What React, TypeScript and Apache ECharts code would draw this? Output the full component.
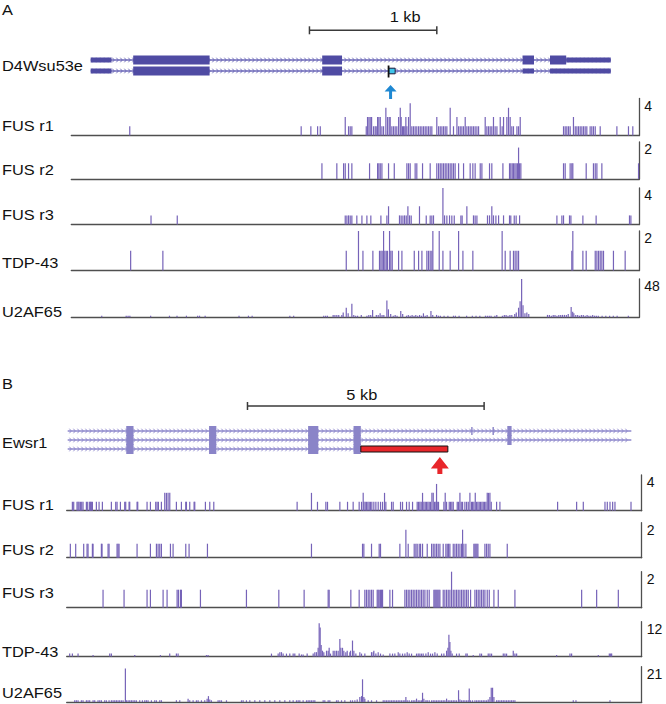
import React, { useEffect, useRef } from "react";
import * as echarts from "echarts";

// ---------------- DATA ----------------
const trackNames = ["FUS r1", "FUS r2", "FUS r3", "TDP-43", "U2AF65"];
const scaleMaxA = [4, 2, 4, 2, 48];
const scaleMaxB = [4, 2, 2, 12, 21];

// Panel A (D4Wsu53e), genomic offset in bp, [position, value]
const fusR1A = [[459,1],[1805,1],[1881,1],[1934,1],[1955,1],[2151,2],[2177,1],[2190,1],[2203,1],[2316,1],[2326,2],[2337,2],[2347,2],[2358,2],[2373,1],[2386,1],[2394,1],[2405,2],[2415,2],[2426,2],[2439,1],[2452,1],[2470,3],[2483,2],[2496,2],[2504,2],[2517,1],[2530,1],[2543,1],[2556,1],[2570,2],[2583,3],[2590,2],[2601,1],[2609,1],[2619,1],[2627,2],[2635,1],[2648,2],[2661,3.5],[2674,1],[2687,1],[2700,1],[2713,1],[2727,1],[2740,1],[2753,1],[2766,1],[2779,1],[2792,1],[2805,1],[2818,1],[2831,1],[2870,2],[2884,1],[2897,1],[2910,1],[2923,1],[2936,1],[2949,1],[2975,3],[3001,1],[3028,2],[3041,1],[3054,1],[3067,1],[3080,1],[3093,2],[3106,1],[3119,1],[3132,1],[3145,1],[3158,1],[3171,1],[3185,1],[3198,1],[3250,2],[3263,1],[3276,1],[3289,1],[3302,1],[3315,2],[3328,1],[3342,1],[3368,2],[3383,1],[3394,2],[3420,2],[3433,3],[3446,2],[3459,1],[3472,1],[3499,1],[3512,1],[3525,2],[3865,1],[3878,1],[3891,1],[3904,1],[3917,1],[3943,2],[3957,1],[3970,1],[3983,1],[3996,1],[4009,1],[4022,1],[4035,1],[4048,1],[4074,1],[4087,1],[4100,1],[4114,1],[4153,1],[4284,1],[4375,1],[4409,1]];
const fusR2A = [[1968,0.85],[2085,0.85],[2138,0.85],[2151,0.85],[2177,0.85],[2203,0.85],[2342,0.85],[2405,0.85],[2415,0.85],[2426,0.85],[2439,0.85],[2491,0.85],[2536,0.85],[2635,0.85],[2648,0.85],[2661,0.85],[2700,0.85],[2713,0.85],[2758,0.85],[2818,0.85],[2870,0.85],[2884,0.85],[2897,0.85],[2910,0.85],[2923,0.85],[2936,0.85],[2949,0.85],[2962,0.85],[2975,0.85],[2988,0.85],[3001,0.85],[3014,0.85],[3041,0.85],[3080,0.85],[3132,0.85],[3153,0.85],[3171,0.85],[3211,0.85],[3224,0.85],[3284,0.85],[3302,0.85],[3389,0.85],[3441,0.85],[3451,0.85],[3462,0.85],[3472,0.85],[3483,0.85],[3493,0.85],[3504,0.85],[3512,1.7],[3520,0.85],[3530,0.85],[3865,0.85],[3878,0.85],[3917,0.85],[3930,0.85],[3938,0.85],[4043,0.85],[4100,0.85],[4114,0.85],[4127,0.85],[4166,0.85],[4454,0.85]];
const fusR3A = [[626,1],[832,1],[2151,1],[2164,1],[2177,1],[2190,1],[2203,1],[2242,1],[2282,1],[2321,1],[2352,1],[2431,1],[2478,1],[2491,2],[2577,1],[2590,1],[2604,1],[2617,1],[2630,1],[2643,2],[2656,1],[2669,1],[2734,2],[2787,1],[2818,1],[2831,1],[2844,1],[2918,4],[2931,1],[2949,1],[2970,1],[2988,1],[3007,1],[3059,1],[3069,1],[3106,2],[3158,1],[3171,1],[3185,1],[3268,1],[3284,1],[3302,2],[3315,1],[3334,1],[3355,1],[3394,1],[3441,1],[3451,1],[3478,1],[3493,1],[3520,1],[3813,1],[3852,1],[3865,1],[3912,1],[3923,1],[4017,1],[4121,1],[4383,1],[4394,1]];
const tdp43A = [[466,1],[719,1],[2159,1],[2255,2],[2290,1],[2368,1],[2420,1],[2431,1],[2441,1],[2452,2],[2462,1],[2473,1],[2483,1],[2499,2],[2509,1],[2520,1],[2570,1],[2596,1],[2693,1],[2727,1],[2753,1],[2792,1],[2805,1],[2818,1],[2831,1],[2839,2],[2889,2],[2918,1],[2975,1],[3041,2],[3075,1],[3153,1],[3383,2],[3407,1],[3446,1],[3472,1],[3485,1],[3499,1],[3512,1],[3930,1],[3938,2],[4017,1],[4043,1],[4114,1],[4127,1],[4140,1],[4153,1],[4166,1],[4179,1],[4257,1],[4349,1]];
const u2af65A = [[239,2],[431,2],[446,2],[460,2],[623,2],[771,2],[830,2],[904,2],[992,2],[1007,2],[1051,2],[1317,2],[1391,2],[1420,2],[1716,2],[1746,2],[1982,2],[1997,2],[2011,2],[2056,3],[2070,3],[2085,3],[2100,3],[2124,3],[2135,6],[2159,12],[2174,5],[2203,17],[2218,3],[2233,2],[2248,2],[2277,3],[2321,2],[2336,3],[2351,3],[2366,9],[2395,3],[2410,3],[2425,5],[2440,3],[2454,3],[2478,21],[2490,10],[2508,4],[2528,2],[2543,3],[2558,2],[2587,8],[2602,4],[2632,2],[2646,3],[2661,2],[2676,3],[2691,2],[2705,3],[2720,2],[2735,3],[2750,2],[2765,5],[2779,2],[2794,3],[2824,8],[2838,3],[2868,3],[2883,2],[2898,2],[2927,2],[2957,2],[3001,2],[3016,2],[3045,2],[3104,2],[3149,2],[3178,2],[3208,2],[3252,2],[3267,2],[3282,2],[3296,2],[3326,2],[3341,3],[3385,2],[3400,3],[3414,3],[3429,2],[3444,3],[3459,3],[3482,4],[3494,6],[3512,12],[3524,20],[3536,48],[3547,15],[3562,5],[3577,6],[3592,4],[3739,3],[3754,3],[3769,2],[3784,3],[3798,3],[3813,2],[3828,3],[3843,3],[3857,3],[3872,3],[3887,3],[3902,4],[3925,13],[3937,7],[3946,5],[3961,3],[3976,3],[3990,2],[4005,3],[4020,3],[4035,2],[4050,3],[4064,2],[4079,2],[4094,3],[4109,2],[4123,2],[4138,2],[4168,2],[4197,2],[4227,2],[4256,2],[4286,2],[4374,2]];

// Panel B (Ewsr1)
const fusR1B = [[120,1],[148,1],[218,1],[240,1],[261,1],[289,1],[317,1],[345,1],[416,1],[444,1],[486,1],[500,1],[521,1],[543,1],[627,1],[684,1],[754,1],[944,1],[1036,1],[1064,1],[1135,1],[1226,1],[1247,1],[1318,1],[1332,1],[1487,1],[1501,1],[1698,1],[1769,1],[1881,1],[1910,1],[1938,1],[2001,1],[2072,2],[2107,2],[2142,2],[2178,2],[2318,1],[2424,1],[2516,1],[2530,1],[2600,1],[2692,1],[2706,1],[2931,1],[3023,1],[3108,1],[4869,1],[5172,2],[5299,1],[5476,1],[5511,1],[5772,1],[5934,1],[6053,1],[6180,1],[6230,1],[6265,2],[6279,1],[6307,1],[6335,1],[6364,1],[6392,1],[6420,1],[6448,1],[6490,1],[6533,1],[6582,1],[6631,1],[6674,1],[6716,2],[6744,1],[6864,1],[6899,1],[7054,1],[7096,1],[7181,1],[7237,1],[7308,1],[7406,1],[7435,1],[7463,1],[7491,1],[7519,2],[7547,1],[7576,1],[7604,1],[7632,1],[7660,1],[7688,1],[7717,2],[7745,2],[7773,1],[7801,1],[7815,3],[7829,1],[7857,1],[7970,1],[7998,2],[8027,1],[8083,1],[8111,1],[8139,1],[8168,1],[8252,1],[8280,1],[8309,2],[8337,1],[8365,1],[8414,1],[8450,1],[8485,1],[8520,2],[8555,1],[8576,1],[8604,1],[8633,2],[8661,1],[8689,1],[8717,1],[8745,1],[8774,1],[8802,1],[8830,1],[8858,1],[8886,2],[8914,2],[8943,2],[8971,1],[9084,1],[9154,1],[10373,1],[10775,1],[10916,1],[11374,1],[11423,1],[11480,1],[11536,1],[11585,1],[11924,1]];
const fusR2B = [[77,0.8],[190,0.8],[359,0.8],[430,0.8],[451,0.8],[543,0.8],[557,0.8],[733,0.8],[747,0.8],[874,0.8],[895,0.8],[1064,0.8],[1085,0.8],[1106,0.8],[1487,0.8],[1769,0.8],[1896,0.8],[1931,0.8],[1966,0.8],[2001,0.8],[2192,0.8],[2248,0.8],[2516,0.8],[2586,0.8],[2974,0.8],[5172,0.8],[6251,0.8],[6279,0.8],[6441,0.8],[6603,0.8],[6631,0.8],[7040,0.8],[7167,1.6],[7216,0.8],[7343,0.8],[7378,0.8],[7406,0.8],[7449,0.8],[7477,0.8],[7519,0.8],[7618,0.8],[7710,0.8],[7745,0.8],[7780,0.8],[7815,0.8],[7850,0.8],[7886,0.8],[7956,0.8],[8012,0.8],[8041,0.8],[8069,0.8],[8097,0.8],[8168,0.8],[8203,0.8],[8238,0.8],[8273,0.8],[8309,0.8],[8344,0.8],[8365,1.6],[8393,0.8],[8435,0.8],[8604,0.8],[8626,0.8],[8647,0.8],[8668,0.8],[8689,0.8],[8837,0.8],[8872,0.8],[8907,0.8],[8943,0.8],[9309,0.8]];
const fusR3B = [[768,1],[1212,1],[1698,1],[1769,1],[2037,1],[2121,1],[2333,1],[2361,1],[2403,1],[2424,1],[2826,1],[3798,1],[4482,1],[5017,1],[5525,1],[5546,1],[6004,1],[6180,1],[6300,1],[6335,1],[6371,1],[6406,1],[6441,1],[6476,1],[6561,1],[6582,1],[6603,1],[6631,1],[6652,1],[6674,1],[6829,1],[6885,1],[7146,1],[7181,1],[7216,1],[7251,1],[7287,1],[7322,1],[7357,1],[7392,1],[7428,1],[7463,1],[7498,1],[7533,1],[7569,1],[7618,1],[7660,1],[7759,1],[7780,1],[7801,1],[7822,1],[7843,1],[7865,1],[7886,1],[7956,1],[7991,1],[8027,1],[8062,1],[8097,1],[8132,2],[8168,1],[8203,1],[8238,1],[8273,1],[8309,1],[8344,1],[8379,1],[8414,1],[8450,1],[8485,1],[8534,1],[8626,1],[8661,1],[8696,1],[8731,1],[8766,1],[8802,1],[8837,1],[8886,1],[8929,1],[9027,1],[9119,1],[9471,1],[10881,1],[11198,1],[11656,1]];
const tdp43B = [[63,1],[120,1],[240,1],[557,0.5],[909,1],[944,1],[1438,0.5],[1980,0.5],[2177,1],[2318,1],[2354,1],[2953,0.5],[2988,0.5],[4327,1],[4468,1],[4503,1.5],[4538,1.5],[4573,1],[4644,1],[4714,1],[4785,1],[4820,1],[4912,1],[4961,0.7],[4996,0.7],[5081,1],[5208,1],[5243,1.5],[5278,1.5],[5313,3],[5335,11.5],[5356,10],[5377,4],[5405,2],[5433,1.5],[5490,2],[5525,2],[5546,3],[5574,1],[5631,2],[5666,2],[5701,2],[5736,2],[5772,6],[5793,3],[5828,3],[5856,2],[5898,1.5],[5927,2],[5983,1.5],[5997,2],[6039,5.5],[6068,2],[6110,1],[6194,1.5],[6230,1],[6300,1],[6441,1.5],[6476,1.5],[6490,2],[6533,1],[6582,1.5],[6631,1],[6688,0.7],[6829,1],[6885,1],[6934,1],[7005,1.5],[7040,1],[7096,1],[7146,1],[7195,1.5],[7237,1],[7287,1],[7392,1],[7428,1],[7463,1],[7498,1],[7533,1],[7590,1],[7639,1.5],[7688,1],[7731,1],[7780,1.5],[7829,1],[7921,1],[7970,1],[8027,2],[8055,3],[8076,7.5],[8097,5],[8118,2],[8146,1],[8238,1],[8294,1],[8435,1],[8463,1],[8590,0.5],[8731,1],[8766,1],[8907,1],[8943,1],[8978,1],[9225,1],[9260,1],[9295,1],[9436,2],[9471,1],[9507,1],[10352,0.5],[10634,1],[10669,1],[11233,0.5],[11466,1],[11494,1],[11515,1]];
const u2af65B = [[169,1],[204,1],[240,1],[310,1],[345,1],[416,1],[451,1],[486,1],[557,1],[592,1],[662,1],[698,1],[733,1],[803,1],[839,1],[895,1],[944,1],[980,1],[1015,1],[1050,1],[1085,1],[1120,1],[1156,1],[1191,1],[1240,20],[1261,1],[1297,1],[1332,1],[1367,1],[1402,1],[1438,1],[1473,1],[1543,1],[1600,1],[1649,1],[1684,1],[1719,1],[1790,1],[1860,1],[1896,1],[1966,1],[2001,1],[2318,1],[2389,1],[2565,2],[2600,1],[2671,1],[2741,1],[2777,1],[2847,1],[2917,1],[2967,2],[2995,3.5],[3023,1.5],[3058,1],[3199,1],[3235,1],[3270,1],[3376,1],[3693,1],[3728,1],[3798,1],[3869,1],[3975,1],[4080,1],[4186,1],[4292,1],[4397,1],[4503,1],[4609,1],[4714,1],[4785,1],[4855,1],[4891,1],[4926,1],[4996,1],[5067,1],[5102,1],[5137,1],[5172,1],[5208,1],[5243,1],[5419,1],[5454,1],[5525,1],[5560,1],[5701,1],[5736,1],[5807,1],[5877,1],[5997,1],[6039,1],[6089,1],[6138,1.5],[6194,3],[6230,3.5],[6251,13.5],[6279,3],[6300,2],[6371,1],[6441,1],[6547,1],[6688,1],[6723,1],[6758,1],[6793,1],[6829,1],[6864,1],[6899,1],[6934,1],[6970,1],[7005,1],[7040,1],[7075,1],[7111,1],[7146,1],[7167,3],[7195,1],[7237,1],[7287,1],[7322,1],[7357,1],[7392,2],[7428,1],[7463,1],[7498,1],[7519,5.5],[7547,2],[7590,1],[7618,1],[7660,1],[7710,1],[7745,1],[7780,1],[7815,1],[7850,1],[7886,1],[7921,1],[7956,1],[7991,1],[8027,2],[8062,1],[8097,1],[8132,1],[8168,1],[8203,1],[8238,1],[8280,7],[8309,1.5],[8344,1],[8379,1],[8414,1],[8450,1],[8485,1],[8506,8],[8534,1],[8576,1],[8626,1],[8661,1],[8696,1],[8731,1],[8766,1],[8802,1],[8837,1],[8872,1],[8907,1.5],[8943,3],[8971,8.5],[8999,8.5],[9027,3],[9084,1],[9119,1],[9154,1],[9190,1],[9225,1],[9260,1],[9295,1],[9331,1],[9366,1],[9401,1],[9436,1],[9471,1],[10704,1],[10761,1],[11480,1]];

// Gene models: [start, end, row, kind]; kind 0 backbone, 1 UTR, 2 coding exon, 3 marked exon, 4 marked region, 5 tiny exon
const geneNameA = "D4Wsu53e";
const geneModelA = [
  [152,4236,0,0],[152,316,0,1],[486,1086,0,2],[1970,2126,0,2],[3543,3633,0,2],[3759,3886,0,2],[3886,4236,0,1],
  [152,4236,1,0],[152,316,1,1],[486,1086,1,2],[1970,2126,1,2],[2492,2543,1,3],[3543,3633,1,1],[3759,4236,1,1],
];
const geneNameB = "Ewsr1";
const geneModelB = [
  [21,11931,0,0],[1258,1412,0,2],[3008,3162,0,2],[5101,5317,0,2],[6061,6215,0,2],[8547,8567,0,5],[8997,9017,0,5],[9310,9401,0,2],
  [21,11931,1,0],[1258,1412,1,2],[3008,3162,1,2],[5101,5317,1,2],[6061,6215,1,2],[9310,9401,1,2],
  [21,6215,2,0],[1258,1412,2,2],[3008,3162,2,2],[5101,5317,2,2],[6061,6215,2,2],[6215,8054,2,4],
];
const scaleBarA = [1870, 2870];
const scaleLabelA = "1 kb";
const scaleBarB = [3820, 8820];
const scaleLabelB = "5 kb";
const arrowPosA = 2507;
const arrowPosB = 7885;

// ---------------- LAYOUT / STYLE ----------------
const FONT = '"Liberation Sans", Arial, Helvetica, sans-serif';
const STRETCH = 1.17;
const BAR_COLOR = "#7663b8";
const AXIS_COLOR = "#4f4f4f";

const panels = [
  {
    letter: "A", letterY: 10,
    left: 71.3, width: 568, xMax: 4460,
    geneName: geneNameA, geneLabelY: 65.5, gene: geneModelA,
    row0Y: 60, rowH: 11, rowMin: -3.5, rowMax: 3.5,
    exonColor: "#4f4ba3", intronColor: "#6c69b8", cdsH: 9, utrH: 5, chevronStep: 4,
    scaleBar: scaleBarA, scaleLabel: scaleLabelA, scaleRow: -2.7, scaleLabelDx: 32, scaleLabelDy: 13.6,
    arrow: arrowPosA, arrowRow: 2.27, arrowColor: "#1f88d2", headW: 12, headH: 6.5, shaftW: 3, shaftH: 7.5,
    tracks: [fusR1A, fusR2A, fusR3A, tdp43A, u2af65A], maxes: scaleMaxA,
    tops: [98.5, 142, 188, 231, 279],
    baselines: [135.5, 179, 224.5, 270.5, 317.3],
    labelY: [125.7, 170, 215, 262.7, 312],
  },
  {
    letter: "B", letterY: 384,
    left: 66.7, width: 575, xMax: 12150,
    geneName: geneNameB, geneLabelY: 442.7, gene: geneModelB,
    row0Y: 431, rowH: 9, rowMin: -3.5, rowMax: 5,
    exonColor: "#8a84c8", intronColor: "#8e88cc", cdsH: 10, utrH: 6, chevronStep: 4,
    scaleBar: scaleBarB, scaleLabel: scaleLabelB, scaleRow: -2.78, scaleLabelDx: -4, scaleLabelDy: 11.3,
    arrow: arrowPosB, arrowRow: 2.9, arrowColor: "#e8262b", headW: 18, headH: 11.5, shaftW: 5, shaftH: 5.5,
    tracks: [fusR1B, fusR2B, fusR3B, tdp43B, u2af65B], maxes: scaleMaxB,
    tops: [475, 522.7, 571.7, 621.7, 666.7],
    baselines: [510.7, 557.7, 607.7, 656.5, 702],
    labelY: [505, 550, 593, 651.7, 693],
  },
];

function geneRenderer(p: any) {
  return (params: any, api: any) => {
    const s = api.value(0), e = api.value(1), row = api.value(2), kind = api.value(3);
    const a = api.coord([s, row]);
    const b = api.coord([e, row]);
    const y = a[1];
    if (kind === 0) {
      const children: any[] = [
        { type: "line", shape: { x1: a[0], y1: y, x2: b[0], y2: y }, style: { stroke: p.intronColor, lineWidth: 1.3 } },
      ];
      for (let x = a[0] + 3; x < b[0] - 1; x += p.chevronStep) {
        children.push({
          type: "polyline",
          shape: { points: [[x - 1.3, y - 2.3], [x + 0.6, y], [x - 1.3, y + 2.3]] },
          style: { stroke: p.intronColor, lineWidth: 0.9, fill: "none" },
        });
      }
      return { type: "group", children };
    }
    if (kind === 1 || kind === 2) {
      const h = kind === 2 ? p.cdsH : p.utrH;
      return { type: "rect", shape: { x: a[0], y: y - h / 2, width: Math.max(b[0] - a[0], 1), height: h }, style: { fill: p.exonColor } };
    }
    if (kind === 3) {
      return {
        type: "group",
        children: [
          { type: "rect", shape: { x: a[0], y: y - 2.8, width: b[0] - a[0], height: 5.6 }, style: { fill: "#3fc4ea", stroke: "#1a1a3a", lineWidth: 1 } },
          { type: "rect", shape: { x: a[0] - 1, y: y - 5.5, width: 1.8, height: 12 }, style: { fill: "#111" } },
        ],
      };
    }
    if (kind === 4) {
      return { type: "rect", shape: { x: a[0], y: y - 3, width: b[0] - a[0], height: 6 }, style: { fill: "#e8262b", stroke: "#111", lineWidth: 1 } };
    }
    return { type: "rect", shape: { x: a[0], y: y - 4, width: 1.4, height: 8 }, style: { fill: p.exonColor } };
  };
}

function scaleRenderer(p: any) {
  return (params: any, api: any) => {
    const a = api.coord([api.value(0), api.value(2)]);
    const b = api.coord([api.value(1), api.value(2)]);
    const y = a[1];
    const stroke = "#3a3a3a";
    return {
      type: "group",
      children: [
        { type: "line", shape: { x1: a[0], y1: y, x2: b[0], y2: y }, style: { stroke, lineWidth: 1.5 } },
        { type: "line", shape: { x1: a[0], y1: y - 4, x2: a[0], y2: y + 4 }, style: { stroke, lineWidth: 1.5 } },
        { type: "line", shape: { x1: b[0], y1: y - 4, x2: b[0], y2: y + 4 }, style: { stroke, lineWidth: 1.5 } },
        {
          type: "text", x: (a[0] + b[0]) / 2 + p.scaleLabelDx, y: y - p.scaleLabelDy, scaleX: STRETCH,
          style: { text: p.scaleLabel, fontSize: 14, fontFamily: FONT, fill: "#111", align: "center", verticalAlign: "middle" },
        },
      ],
    };
  };
}

function arrowRenderer(p: any) {
  return (params: any, api: any) => {
    const t = api.coord([api.value(0), api.value(1)]);
    const x = t[0], y = t[1];
    const pts = [
      [x, y], [x + p.headW / 2, y + p.headH], [x + p.shaftW / 2, y + p.headH],
      [x + p.shaftW / 2, y + p.headH + p.shaftH], [x - p.shaftW / 2, y + p.headH + p.shaftH],
      [x - p.shaftW / 2, y + p.headH], [x - p.headW / 2, y + p.headH],
    ];
    return { type: "polygon", shape: { points: pts }, style: { fill: p.arrowColor } };
  };
}

function buildOption() {
  const grid: any[] = [], xAxis: any[] = [], yAxis: any[] = [], series: any[] = [], graphic: any[] = [];
  const textStyle = (text: string) => ({ text, fontSize: 14, fontFamily: FONT, fill: "#111", align: "left", verticalAlign: "middle" });

  panels.forEach((p) => {
    graphic.push({ type: "text", x: 2, y: p.letterY, scaleX: STRETCH, style: textStyle(p.letter) });
    graphic.push({ type: "text", x: 2, y: p.geneLabelY, scaleX: STRETCH, style: textStyle(p.geneName) });

    // gene model grid
    const gi = grid.length;
    grid.push({ left: p.left, top: p.row0Y + p.rowMin * p.rowH, width: p.width, height: (p.rowMax - p.rowMin) * p.rowH });
    xAxis.push({ type: "value", gridIndex: gi, min: 0, max: p.xMax, show: false });
    yAxis.push({ type: "value", gridIndex: gi, min: p.rowMin, max: p.rowMax, inverse: true, show: false });
    series.push({ type: "custom", xAxisIndex: gi, yAxisIndex: gi, clip: false, silent: true, data: p.gene, renderItem: geneRenderer(p) });
    series.push({ type: "custom", xAxisIndex: gi, yAxisIndex: gi, clip: false, silent: true, data: [[p.scaleBar[0], p.scaleBar[1], p.scaleRow]], renderItem: scaleRenderer(p) });
    series.push({ type: "custom", xAxisIndex: gi, yAxisIndex: gi, clip: false, silent: true, data: [[p.arrow, p.arrowRow]], renderItem: arrowRenderer(p) });

    // signal tracks
    p.tracks.forEach((d: any, i: number) => {
      const ti = grid.length;
      const max = p.maxes[i];
      grid.push({ left: p.left, top: p.tops[i], width: p.width, height: p.baselines[i] - p.tops[i] });
      xAxis.push({
        type: "value", gridIndex: ti, min: 0, max: p.xMax, position: "bottom",
        axisLine: { show: true, onZero: false, lineStyle: { color: AXIS_COLOR, width: 1.3 } },
        axisTick: { show: false }, axisLabel: { show: false }, splitLine: { show: false },
      });
      yAxis.push({
        type: "value", gridIndex: ti, position: "right", min: 0, max, interval: max,
        axisLine: { show: true, onZero: false, lineStyle: { color: AXIS_COLOR, width: 1.3 } },
        axisTick: { show: false }, splitLine: { show: false },
        axisLabel: {
          formatter: (v: number) => (v === max ? String(max) : ""),
          fontSize: 14, fontFamily: FONT, color: "#111", margin: 5, verticalAlign: "top",
        },
      });
      series.push({ type: "bar", xAxisIndex: ti, yAxisIndex: ti, data: d, barWidth: 1.2, silent: true, itemStyle: { color: BAR_COLOR } });
      graphic.push({ type: "text", x: 2, y: p.labelY[i], scaleX: STRETCH, style: textStyle(trackNames[i]) });
    });
  });

  return { animation: false, backgroundColor: "#ffffff", grid, xAxis, yAxis, series, graphic };
}

export default function App() {
  const ref = useRef<HTMLDivElement>(null);
  useEffect(() => {
    if (!ref.current) return;
    const chart = echarts.init(ref.current, undefined, { renderer: "svg" });
    chart.setOption(buildOption() as any);
    return () => chart.dispose();
  }, []);
  return (
    <div
      ref={ref}
      style={{ position: "fixed", left: 0, top: 0, width: 666, height: 704, background: "#fff" }}
    />
  );
}
